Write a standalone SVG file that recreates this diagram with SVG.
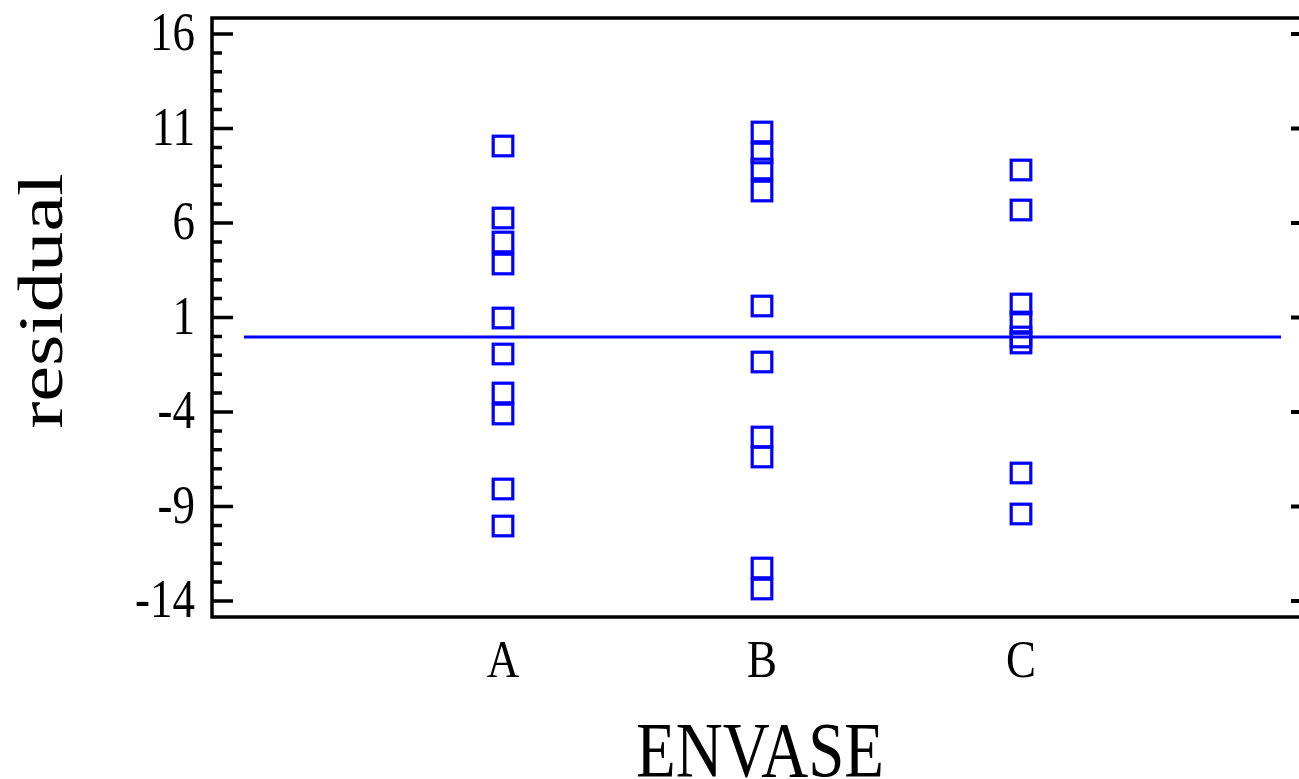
<svg xmlns="http://www.w3.org/2000/svg" xmlns:xlink="http://www.w3.org/1999/xlink" width="1299" height="779" viewBox="0 0 1299 779">
<style>
.ax{stroke:#000;stroke-width:3.5;fill:none}
.tk{stroke:#000;stroke-width:3.5}
.rt{stroke:#000;stroke-width:4}
.lab{fill:#000;font-family:'Liberation Serif','Times New Roman',Times,serif}
.m{fill:none;stroke:#0000FF;stroke-width:3.2}
.fit{stroke:#0000FF;stroke-width:3.2}
</style>
<defs>
<rect id="sq" x="-9.8" y="-9.8" width="19.6" height="19.6" class="m"/>
</defs>
<rect width="1299" height="779" fill="#fff"/>
<g id="axes">
<path class="ax" d="M1299,18 H212 V617 H1299"/>
<g id="leftTicks">
<path class="tk" d="M212,34H233 M212,128.5H233 M212,223H233 M212,317.5H233 M212,412H233 M212,506.5H233 M212,601H233"/>
<path class="tk" d="M212,52.9H222 M212,71.8H222 M212,90.7H222 M212,109.6H222 M212,147.4H222 M212,166.3H222 M212,185.2H222 M212,204.1H222 M212,241.9H222 M212,260.8H222 M212,279.7H222 M212,298.6H222 M212,336.4H222 M212,355.3H222 M212,374.2H222 M212,393.1H222 M212,430.9H222 M212,449.8H222 M212,468.7H222 M212,487.6H222 M212,525.4H222 M212,544.3H222 M212,563.2H222 M212,582.1H222"/>
</g>
<path class="rt" d="M1291,34H1299 M1291,128.5H1299 M1291,223H1299 M1291,317.5H1299 M1291,412H1299 M1291,506.5H1299 M1291,601H1299"/>
</g>
<g id="yLabels" class="lab" font-size="45" text-anchor="end">
<text transform="translate(195,50) scale(1,1.22)">16</text>
<text transform="translate(195,144.5) scale(1,1.22)">11</text>
<text transform="translate(195,239) scale(1,1.22)">6</text>
<text transform="translate(195,333.5) scale(1,1.22)">1</text>
<text transform="translate(195,428) scale(1,1.22)">-4</text>
<text transform="translate(195,522.5) scale(1,1.22)">-9</text>
<text transform="translate(195,617) scale(1,1.22)">-14</text>
</g>
<g id="xLabels" class="lab" font-size="45" text-anchor="middle">
<text transform="translate(503,677) scale(1,1.18)">A</text>
<text transform="translate(762,677) scale(1,1.18)">B</text>
<text transform="translate(1021,677) scale(1,1.18)">C</text>
</g>
<text id="xTitle" class="lab" font-size="65" text-anchor="middle" transform="translate(760,776) scale(1,1.2)">ENVASE</text>
<text id="yTitle" class="lab" font-size="64" text-anchor="middle" transform="translate(62,301) rotate(-90) scale(1.26,1)">residual</text>
<g id="connectors">
<line class="fit" x1="244" y1="337" x2="1281" y2="337"/>
</g>
<g id="groupA">
<use xlink:href="#sq" x="503" y="146"/>
<use xlink:href="#sq" x="503" y="218"/>
<use xlink:href="#sq" x="503" y="242"/>
<use xlink:href="#sq" x="503" y="264"/>
<use xlink:href="#sq" x="503" y="318"/>
<use xlink:href="#sq" x="503" y="354"/>
<use xlink:href="#sq" x="503" y="393"/>
<use xlink:href="#sq" x="503" y="414"/>
<use xlink:href="#sq" x="503" y="489"/>
<use xlink:href="#sq" x="503" y="526"/>
</g>
<g id="groupB">
<use xlink:href="#sq" x="762" y="132"/>
<use xlink:href="#sq" x="762" y="153"/>
<use xlink:href="#sq" x="762" y="169"/>
<use xlink:href="#sq" x="762" y="191"/>
<use xlink:href="#sq" x="762" y="306"/>
<use xlink:href="#sq" x="762" y="362"/>
<use xlink:href="#sq" x="762" y="437"/>
<use xlink:href="#sq" x="762" y="457"/>
<use xlink:href="#sq" x="762" y="568"/>
<use xlink:href="#sq" x="762" y="589"/>
</g>
<g id="groupC">
<use xlink:href="#sq" x="1021" y="170"/>
<use xlink:href="#sq" x="1021" y="210"/>
<use xlink:href="#sq" x="1021" y="304"/>
<use xlink:href="#sq" x="1021" y="322"/>
<use xlink:href="#sq" x="1021" y="337"/>
<use xlink:href="#sq" x="1021" y="343"/>
<use xlink:href="#sq" x="1021" y="473"/>
<use xlink:href="#sq" x="1021" y="514"/>
</g>
</svg>
